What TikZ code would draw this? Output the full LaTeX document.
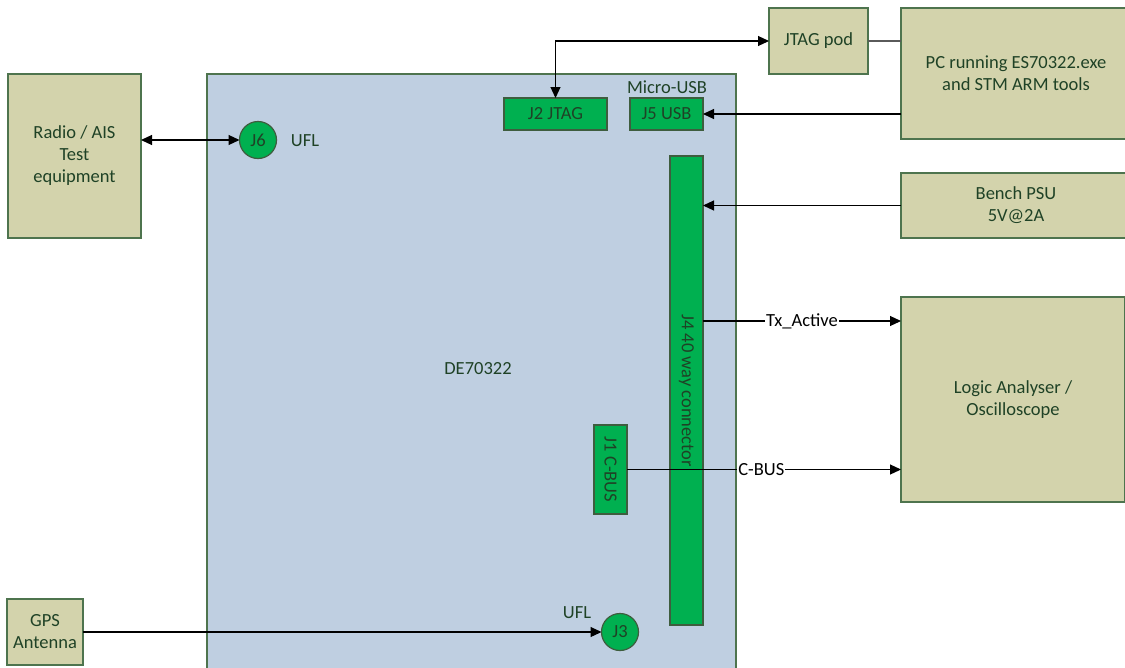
\documentclass[tikz,border=0pt]{standalone}
\usepackage{fontspec}
\setmainfont{Carlito}
\usetikzlibrary{arrows.meta}
\definecolor{boardfill}{HTML}{BFCFE1}
\definecolor{tanfill}{HTML}{D3D3AC}
\definecolor{conngreen}{HTML}{00B050}
\definecolor{edgegreen}{HTML}{4E744E}
\definecolor{txtgreen}{HTML}{1F4226}
\definecolor{linegray}{HTML}{5A5A5A}
\tikzset{
  base/.style={draw=edgegreen, line width=1.2pt, inner sep=0pt, outer sep=0pt, anchor=north west, text=txtgreen, align=center, font=\fontsize{18.5}{22}\selectfont},
  tanbox/.style={base, fill=tanfill},
  board/.style={base, fill=boardfill},
  conn/.style={base, fill=conngreen, draw=edgegreen!80!black},
  jack/.style={circle, draw=edgegreen!80!black, line width=1.2pt, fill=conngreen, inner sep=0pt, outer sep=0pt, minimum size=37pt, text=txtgreen, font=\fontsize{18.5}{22}\selectfont},
  plain/.style={text=txtgreen, inner sep=1pt, font=\fontsize{18.5}{22}\selectfont},
  wire/.style={draw=black, line width=1.1pt},
  tip/.style={-{Triangle[length=11pt,width=10pt]}},
  tips/.style={{Triangle[length=11pt,width=10pt]}-{Triangle[length=11pt,width=10pt]}},
  siglabel/.style={fill=white, text=black, inner sep=1pt, font=\fontsize{18.5}{22}\selectfont}
}
\begin{document}
\begin{tikzpicture}[x=1pt,y=-1pt]
\useasboundingbox (0,0) rectangle (1125,667);
\clip (0,0) rectangle (1125,667);
% main board
\node[board, minimum width=529pt, minimum height=600pt] (board) at (207,74) {};
\node[plain] (boardname) at (478,369) {DE70322};
% external boxes
\node[tanbox, minimum width=133pt, minimum height=164pt] (radio) at (8,74) {Radio / AIS\\Test\\equipment};
\node[tanbox, minimum width=76pt, minimum height=66pt] (gps) at (7,599) {GPS\\Antenna};
\node[tanbox, minimum width=99pt, minimum height=66pt] (pod) at (769,8) {JTAG pod};
\node[tanbox, minimum width=230pt, minimum height=131pt] (pc) at (901,8) {PC running ES70322.exe\\and STM ARM tools};
\node[tanbox, minimum width=230pt, minimum height=65pt] (psu) at (901,173) {Bench PSU\\5V@2A};
\node[tanbox, minimum width=224pt, minimum height=205pt] (la) at (901,297) {Logic Analyser /\\Oscilloscope};
% board connectors
\node[conn, minimum width=103pt, minimum height=32pt] (J2) at (504,98) {J2 JTAG};
\node[conn, minimum width=73pt, minimum height=32pt] (J5) at (630,98) {J5 USB};
\node[plain] (microusb) at (667,87) {Micro-USB};
\node[conn, minimum width=33pt, minimum height=469pt, label={[plain, rotate=-90]center:J4 40 way connector}] (J4) at (670,156) {};
\node[conn, minimum width=33pt, minimum height=89pt, label={[plain, rotate=-90]center:J1 C-BUS}] (J1) at (594,425) {};
\node[jack] (J6) at (258,140) {J6};
\node[plain] (ufl1) at (305,141) {UFL};
\node[jack] (J3) at (620,632) {J3};
\node[plain] (ufl2) at (577,613) {UFL};
\coordinate (txy) at (0,321);
% connectors
\draw[wire, tips] (radio.east |- J6.west) -- (J6.west);
\draw[wire, tip] (gps.east) -- (J3.west);
\draw[wire, tips] (J2.north) -- (J2.north |- pod.west) -- (pod.west);
\draw[line width=1.2pt, draw=linegray] (pod.east) -- (pod.east -| pc.west);
\draw[wire, tip] (pc.west |- J5.east) -- (J5.east);
\draw[wire, tip] (psu.west) -- (psu.west -| J4.east);
\draw[wire, tip] (J4.east |- txy) -- node[siglabel] (txactive) {Tx\_Active} (la.west |- txy);
\draw[wire, tip] (J1.east) -- node[siglabel, pos=0.49] (cbus) {C-BUS} (J1.east -| la.west);
\end{tikzpicture}
\end{document}
